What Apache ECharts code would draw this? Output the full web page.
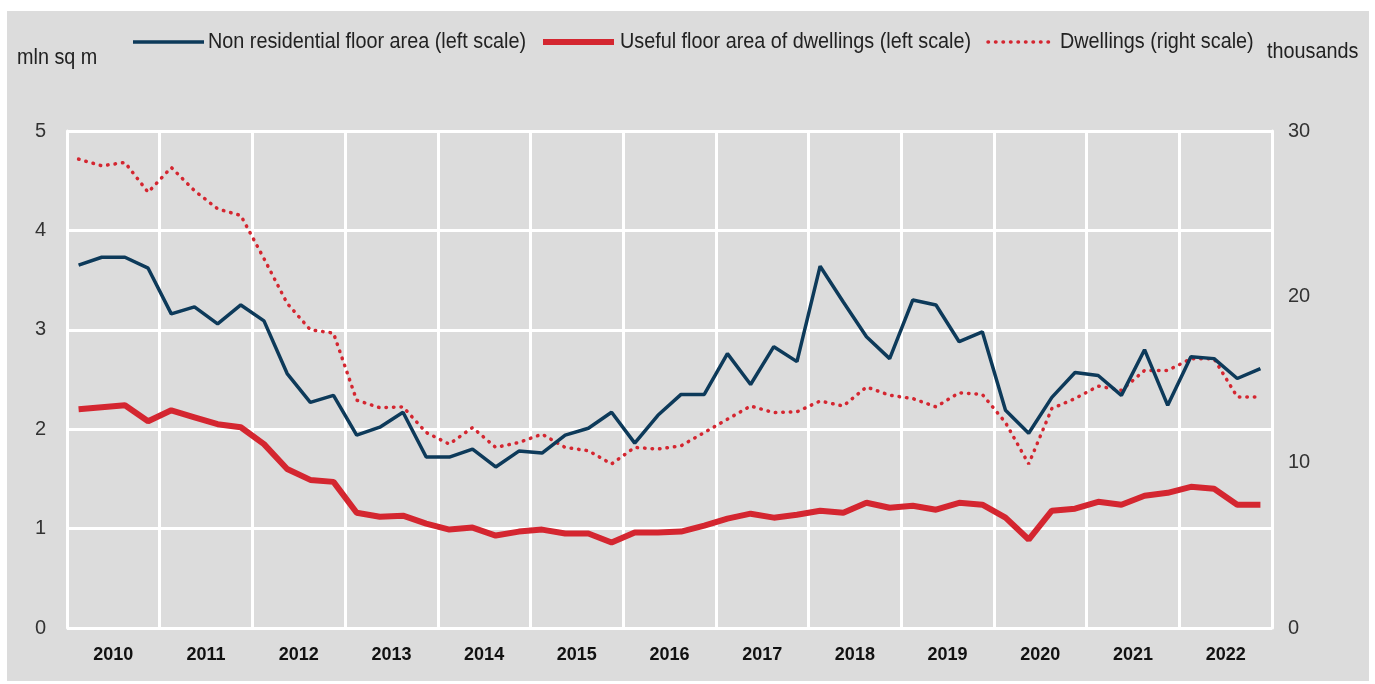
<!DOCTYPE html>
<html>
<head>
<meta charset="utf-8">
<script src="https://cdn.jsdelivr.net/npm/echarts@6/dist/echarts.min.js"></script>
<style>
  html, body { margin: 0; padding: 0; background: #fff; }
  #chart { width: 1375px; height: 684px; }
</style>
</head>
<body>
<div id="chart"></div>
<script>
var years = ['2010', '2011', '2012', '2013', '2014', '2015', '2016', '2017', '2018', '2019', '2020', '2021', '2022'];
var quarters = [];
years.forEach(function (y) {
  ['Q1', 'Q2', 'Q3', 'Q4'].forEach(function (q) { quarters.push(y + ' ' + q); });
});
var seriesNames = ['Non residential floor area (left scale)', 'Useful floor area of dwellings (left scale)', 'Dwellings (right scale)'];

// mln sq m, left scale
var nonResidential = [3.65, 3.73, 3.73, 3.62, 3.16, 3.23, 3.06, 3.25, 3.09, 2.56, 2.27, 2.34,
  1.94, 2.02, 2.17, 1.72, 1.72, 1.80, 1.62, 1.78, 1.76, 1.94, 2.01, 2.17,
  1.86, 2.14, 2.35, 2.35, 2.76, 2.45, 2.83, 2.68, 3.64, 3.28, 2.93, 2.71,
  3.30, 3.25, 2.88, 2.98, 2.19, 1.96, 2.32, 2.57, 2.54, 2.34, 2.80, 2.24,
  2.73, 2.71, 2.51, 2.61];
var usefulFloor = [2.20, 2.22, 2.24, 2.08, 2.19, 2.12, 2.05, 2.02, 1.85, 1.60, 1.49, 1.47,
  1.16, 1.12, 1.13, 1.05, 0.99, 1.01, 0.93, 0.97, 0.99, 0.95, 0.95, 0.86,
  0.96, 0.96, 0.97, 1.03, 1.10, 1.15, 1.11, 1.14, 1.18, 1.16, 1.26, 1.21,
  1.23, 1.19, 1.26, 1.24, 1.11, 0.89, 1.18, 1.20, 1.27, 1.24, 1.33, 1.36,
  1.42, 1.40, 1.24, 1.24];
// thousands, right scale
var dwellings = [28.3, 27.9, 28.1, 26.3, 27.8, 26.4, 25.3, 24.9, 22.3, 19.6, 18.0, 17.8,
  13.75, 13.3, 13.35, 11.8, 11.1, 12.1, 10.9, 11.2, 11.7, 10.9, 10.7, 9.9,
  10.9, 10.8, 11.0, 11.8, 12.6, 13.4, 13.0, 13.05, 13.7, 13.4, 14.55, 14.05,
  13.85, 13.35, 14.2, 14.1, 12.4, 9.9, 13.25, 13.85, 14.6, 14.35, 15.55, 15.55,
  16.25, 16.25, 13.95, 13.95];

var FONT = "'Liberation Sans', Arial, sans-serif";
var NAVY = '#0d3a5a';
var RED = '#d42630';
var DOTS = [0.5, 7];

// narrow-looking text: normal font squeezed horizontally
function label(text, x, y) {
  return {
    type: 'text', x: x, y: y, scaleX: 0.9, silent: true,
    style: { text: text, font: '22px ' + FONT, fill: '#222', verticalAlign: 'middle' }
  };
}
function legendLine(x1, x2, y, color, width, dash) {
  return {
    type: 'line', silent: true,
    shape: { x1: x1, y1: y, x2: x2, y2: y },
    style: { stroke: color, lineWidth: width, lineDash: dash || null, lineCap: dash ? 'round' : 'butt' }
  };
}

var myChart = echarts.init(document.getElementById('chart'), null, { renderer: 'canvas' });

var option = {
  backgroundColor: '#fff',
  textStyle: { fontFamily: FONT },
  graphic: [
    { type: 'rect', z: -10, silent: true, shape: { x: 7, y: 11, width: 1362, height: 670 }, style: { fill: '#dcdcdc' } },
    label('mln sq m', 17, 58),
    label('thousands', 1267, 52),
    legendLine(133, 204, 42, NAVY, 3.5),
    label(seriesNames[0], 208, 42),
    legendLine(543, 614, 42, RED, 6),
    label(seriesNames[1], 620, 42),
    legendLine(988, 1054, 42, RED, 3.5, DOTS),
    label(seriesNames[2], 1060, 42)
  ],
  legend: { show: false },
  grid: { left: 67, right: 103, top: 131, bottom: 56, containLabel: false },
  xAxis: [
    {
      type: 'category',
      data: quarters,
      boundaryGap: true,
      show: false
    },
    {
      type: 'category',
      data: years,
      position: 'bottom',
      boundaryGap: true,
      axisLine: { show: false },
      axisTick: { show: false },
      axisLabel: { fontFamily: FONT, fontSize: 18, fontWeight: 'bold', color: '#111', margin: 18 },
      splitLine: { show: true, lineStyle: { color: '#fff', width: 3 } }
    }
  ],
  yAxis: [
    {
      type: 'value',
      min: 0,
      max: 5,
      interval: 1,
      axisLine: { show: true, lineStyle: { color: '#fff', width: 3 } },
      axisTick: { show: false },
      axisLabel: { fontFamily: FONT, fontSize: 20, color: '#333', margin: 21 },
      splitLine: { show: true, lineStyle: { color: '#fff', width: 3 } }
    },
    {
      type: 'value',
      min: 0,
      max: 30,
      interval: 10,
      position: 'right',
      axisLine: { show: true, lineStyle: { color: '#fff', width: 3 } },
      axisTick: { show: false },
      axisLabel: { fontFamily: FONT, fontSize: 20, color: '#333', margin: 16 },
      splitLine: { show: false }
    }
  ],
  series: [
    {
      name: seriesNames[0],
      type: 'line',
      xAxisIndex: 0,
      yAxisIndex: 0,
      symbol: 'none',
      z: 4,
      lineStyle: { color: NAVY, width: 3.5 },
      itemStyle: { color: NAVY },
      data: nonResidential
    },
    {
      name: seriesNames[1],
      type: 'line',
      xAxisIndex: 0,
      yAxisIndex: 0,
      symbol: 'none',
      z: 3,
      lineStyle: { color: RED, width: 6 },
      itemStyle: { color: RED },
      data: usefulFloor
    },
    {
      name: seriesNames[2],
      type: 'line',
      xAxisIndex: 0,
      yAxisIndex: 1,
      symbol: 'none',
      z: 2,
      lineStyle: { color: RED, width: 3.5, type: DOTS, cap: 'round' },
      itemStyle: { color: RED },
      data: dwellings
    }
  ]
};

myChart.setOption(option);
window.addEventListener('resize', myChart.resize);
</script>
</body>
</html>
